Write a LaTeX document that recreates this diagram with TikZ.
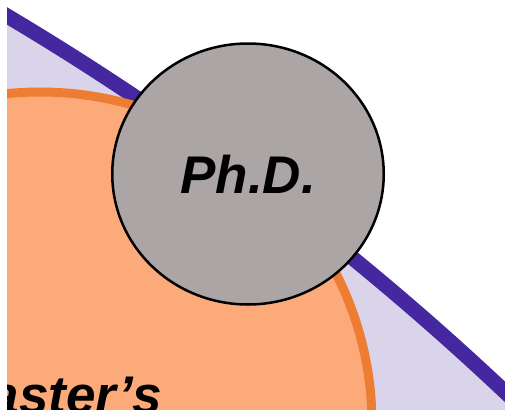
\documentclass[tikz,border=0pt]{standalone}
\usepackage{fontspec}
\setmainfont{Liberation Sans}
\usetikzlibrary{shapes.geometric}
\definecolor{knowPurple}{RGB}{69,39,160}
\definecolor{knowLav}{RGB}{217,212,234}
\definecolor{mastOrange}{RGB}{237,125,50}
\definecolor{mastPeach}{RGB}{252,170,122}
\definecolor{phdGrey}{RGB}{171,165,165}

\begin{document}
\begin{tikzpicture}[x=1pt,y=-1pt,
        lbl/.style={font=\fontsize{53}{60}\selectfont\bfseries\itshape,text=black,inner sep=0pt},
        phdc/.style={ellipse,draw=black,line width=2.5pt,fill=phdGrey,
                  minimum width=271.5pt,minimum height=261pt,inner sep=0pt}]
        \useasboundingbox (0,0) rectangle (505,409);
        \begin{scope}
        \clip (7,0) rectangle (505,409);
        % human knowledge and the master's circle
        \draw[knowPurple,line width=15pt,fill=knowLav] (-1447,2463) circle[radius=2846pt];
        \draw[mastOrange,line width=9pt,fill=mastPeach] (40,424) circle[radius=332pt];
        \node[lbl,anchor=base east] (mast) at (162,413) {Master’s};
        \end{scope}
        \node[phdc,lbl] (phd) at (248,174) {Ph.D.};
      \end{tikzpicture}
\end{document}
